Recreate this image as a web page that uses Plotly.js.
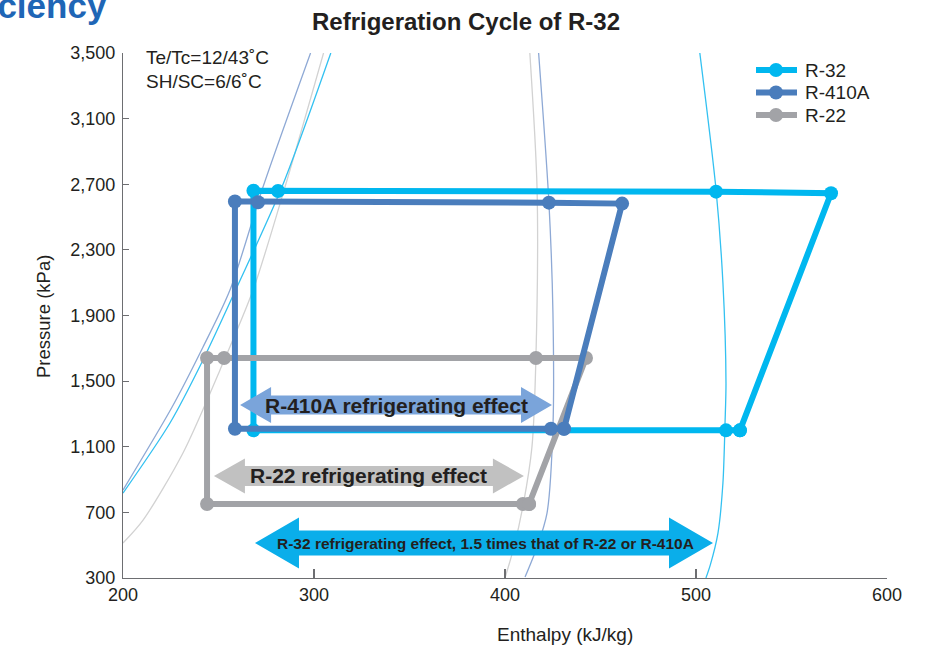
<!DOCTYPE html>
<html><head><meta charset="utf-8">
<script src="https://cdn.plot.ly/plotly-3.0.1.min.js"></script>
<style>html,body{margin:0;padding:0;background:#fff}#chart{width:941px;height:647px}</style>
</head><body><div id="chart"></div>
<script>
// ---------- data ----------
const refrigerants = ['R-32', 'R-410A', 'R-22'];

// cycle points (enthalpy kJ/kg, pressure kPa)
const r32Enthalpy  = [523.0, 570.7, 510.5, 281.2, 268.3, 268.3, 515.7, 523.0];
const r32Pressure  = [1200, 2645, 2655, 2659, 2660, 1200, 1200, 1200];
const r410Enthalpy = [430.9, 461.3, 423.0, 270.7, 258.6, 258.6, 424.1, 430.9];
const r410Pressure = [1210, 2582, 2588, 2590, 2595, 1210, 1210, 1210];
const r22Enthalpy  = [412.6, 442.4, 416.2, 252.9, 244.0, 244.0, 409.4, 412.6];
const r22Pressure  = [751, 1641, 1641, 1641, 1641, 751, 751, 751];

// saturated liquid lines
const r32LiqH  = [200, 224.6, 241.9, 259.7, 283.2, 308.8];
const r32LiqP  = [818, 1245, 1629, 2074, 2683, 3500];
const r410LiqH = [200, 225.7, 241.9, 256.0, 273.3, 298.2];
const r410LiqP = [836, 1342, 1708, 2055, 2683, 3500];
const r22LiqH  = [200, 210.5, 231.4, 250.8, 268.1, 284.8, 305.0];
const r22LiqP  = [513, 653, 1062, 1568, 2055, 2683, 3500];

// saturated vapour lines
const r32VapH  = [502.0, 510.5, 514.1, 515.7, 515.2, 514.1, 511.5, 507.5, 505.2];
const r32VapP  = [3500, 2665, 2098, 1489, 1245, 879, 574, 380, 300];
const r410VapH = [417.6, 423.0, 425.1, 425.1, 422.0, 416.8, 410.5];
const r410VapP = [3500, 2586, 1915, 1220, 696, 489, 306];
const r22VapH  = [413.0, 416.8, 416.2, 414.1, 409.6, 404.7, 400.0];
const r22VapP  = [3500, 2665, 1647, 1098, 751, 490, 300];

// refrigerating-effect arrows
const effectLabels = ['R-410A refrigerating effect', 'R-22 refrigerating effect',
  'R-32 refrigerating effect, 1.5 times that of R-22 or R-410A'];
const effectFrom = [261.3, 247.6, 269.1];
const effectTo   = [424.6, 409.9, 508.9];
const effectAt   = [1354, 922, 513];

// axis ticks
const pressureTicks = [300, 700, 1100, 1500, 1900, 2300, 2700, 3100, 3500];
const enthalpyTicks = [200, 300, 400, 500, 600];

// ---------- styles ----------
const FONT = 'Liberation Sans, Arial, Helvetica, sans-serif';
const TXT = '#231f20';
const cycleColors = ['#00b7ef', '#4a7dbc', '#a2a3a7'];
const thinColors  = ['#33c1f1', '#8ea9d5', '#d2d2d2'];
const arrowStyles = [
  {color: '#7aa4da', head: 31, headHalf: 18, bodyHalf: 9.5, size: 21, dx: 0},
  {color: '#c1c1c1', head: 31, headHalf: 17.5, bodyHalf: 10, size: 21, dx: 0},
  {color: '#0aaeea', head: 44, headHalf: 25.5, bodyHalf: 12.5, size: 15.5, dx: 2}
];
const legendStyle = {x0: 756, x1: 797, xm: 776, textX: 803, row0: 70, step: 22.5, size: 19};

const W = 941, H = 647;
const M = {l: 123, r: 54, t: 53, b: 69};
const xr = [200, 600], yr = [300, 3500];
const kx = (xr[1] - xr[0]) / (W - M.l - M.r);
const ky = (yr[1] - yr[0]) / (H - M.t - M.b);
const py = p => (H - M.b - p) / (H - M.t - M.b);
const px = p => (p - M.l) / (W - M.l - M.r);

function thin(x, y, c) {
  return {x, y, type: 'scatter', mode: 'lines', showlegend: false, hoverinfo: 'skip',
    line: {color: c, width: 1.3, shape: 'spline', smoothing: 0.8}};
}
function cycle(x, y, name, c) {
  return {x, y, name, type: 'scatter', mode: 'lines+markers', showlegend: false,
    line: {color: c, width: 6}, marker: {color: c, size: 14}};
}

const traces = [
  thin(r22LiqH, r22LiqP, thinColors[2]),
  thin(r22VapH, r22VapP, thinColors[2]),
  thin(r410LiqH, r410LiqP, thinColors[1]),
  thin(r410VapH, r410VapP, thinColors[1]),
  thin(r32LiqH, r32LiqP, thinColors[0]),
  thin(r32VapH, r32VapP, thinColors[0]),
  cycle(r32Enthalpy, r32Pressure, refrigerants[0], cycleColors[0]),
  cycle(r22Enthalpy, r22Pressure, refrigerants[2], cycleColors[2]),
  cycle(r410Enthalpy, r410Pressure, refrigerants[1], cycleColors[1])
];

function arrowPath(h0, h1, p, s) {
  const hx = s.head * kx, hy = s.headHalf * ky, by = s.bodyHalf * ky;
  return `M${h0},${p} L${h0 + hx},${p + hy} L${h0 + hx},${p + by} L${h1 - hx},${p + by} ` +
         `L${h1 - hx},${p + hy} L${h1},${p} L${h1 - hx},${p - hy} L${h1 - hx},${p - by} ` +
         `L${h0 + hx},${p - by} L${h0 + hx},${p - hy} Z`;
}

const shapes = effectLabels.map((_, i) => ({
  type: 'path', xref: 'x', yref: 'y', layer: 'above',
  path: arrowPath(effectFrom[i], effectTo[i], effectAt[i], arrowStyles[i]),
  fillcolor: arrowStyles[i].color, line: {width: 0}
}));

const annotations = effectLabels.map((t, i) => ({
  text: '<b>' + t + '</b>', x: (effectFrom[i] + effectTo[i]) / 2, y: effectAt[i],
  xref: 'x', yref: 'y', showarrow: false, xshift: arrowStyles[i].dx,
  font: {family: FONT, size: arrowStyles[i].size, color: TXT}
}));

// legend (drawn as layout items for exact row spacing)
refrigerants.forEach((name, i) => {
  const rowY = py(legendStyle.row0 + i * legendStyle.step);
  shapes.push({type: 'line', xref: 'paper', yref: 'paper', layer: 'above',
    x0: px(legendStyle.x0), x1: px(legendStyle.x1), y0: rowY, y1: rowY,
    line: {color: cycleColors[i], width: 6}});
  shapes.push({type: 'circle', xref: 'paper', yref: 'paper', layer: 'above',
    xsizemode: 'pixel', ysizemode: 'pixel', xanchor: px(legendStyle.xm), yanchor: rowY,
    x0: -7, x1: 7, y0: -7, y1: 7, fillcolor: cycleColors[i], line: {width: 0}});
  annotations.push({text: name, xref: 'paper', yref: 'paper', x: px(legendStyle.textX), y: rowY,
    xanchor: 'left', yanchor: 'middle', showarrow: false,
    font: {family: FONT, size: legendStyle.size, color: TXT}});
});

annotations.push(
  {text: 'Te/Tc=12/43˚C', xref: 'paper', yref: 'paper', x: px(144), y: py(57),
   xanchor: 'left', yanchor: 'middle', showarrow: false, font: {family: FONT, size: 19, color: TXT}},
  {text: 'SH/SC=6/6˚C', xref: 'paper', yref: 'paper', x: px(144), y: py(81),
   xanchor: 'left', yanchor: 'middle', showarrow: false, font: {family: FONT, size: 19, color: TXT}},
  {text: 'Pressure (kPa)', xref: 'paper', yref: 'paper', x: px(43), y: py(317), textangle: -90,
   xanchor: 'center', yanchor: 'middle', showarrow: false, font: {family: FONT, size: 18.5, color: TXT}},
  {text: 'Enthalpy (kJ/kg)', xref: 'paper', yref: 'paper', x: px(565), y: py(634),
   xanchor: 'center', yanchor: 'middle', showarrow: false, font: {family: FONT, size: 19, color: TXT}},
  {text: '<b>Efficiency</b>', xref: 'paper', yref: 'paper', x: px(109), y: py(6),
   xanchor: 'right', yanchor: 'middle', showarrow: false, font: {family: FONT, size: 35, color: '#1f66b6'}}
);

const axisCommon = {
  showgrid: false, zeroline: false, showline: true, linecolor: '#6d6e71', linewidth: 1.2,
  ticks: 'inside', tickcolor: '#6d6e71', tickwidth: 1.2,
  tickfont: {family: FONT, size: 18, color: TXT}, fixedrange: true
};

const layout = {
  width: W, height: H, margin: M, paper_bgcolor: '#fff', plot_bgcolor: '#fff',
  title: {text: '<b>Refrigeration Cycle of R-32</b>', xref: 'container', yref: 'container',
    x: 466 / W, y: 1 - 22 / H, xanchor: 'center', yanchor: 'middle',
    font: {family: FONT, size: 24, color: TXT}},
  xaxis: Object.assign({}, axisCommon, {range: xr, tickvals: enthalpyTicks, ticklen: 9, ticklabelstandoff: 0}),
  yaxis: Object.assign({}, axisCommon, {range: yr, tickvals: pressureTicks, ticklen: 6,
    tickformat: ',d', ticklabelstandoff: 3}),
  showlegend: false,
  shapes, annotations
};

Plotly.newPlot('chart', traces, layout, {displayModeBar: false, staticPlot: true});
</script></body></html>
